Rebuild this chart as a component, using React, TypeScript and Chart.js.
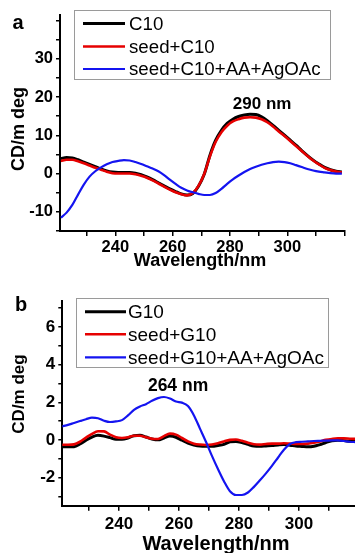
import { useEffect, useRef } from 'react';
import { Chart, registerables } from 'chart.js';
Chart.register(...registerables);

// ---------- Panel a data (CD spectra, mdeg) ----------
const wavelengthsA = [221,223,225,227,229,231,233,235,237,239,241,243,245,247,249,251,253,255,257,259,261,263,265,267,269,271,273,275,277,279,281,283,285,287,289,291,293,295,297,299,301,303,305,307,309,311,313,315,317,319];
const c10 = [3.9,4.2,4.1,3.6,3.0,2.4,1.8,1.2,0.7,0.4,0.3,0.3,0.3,0.1,-0.3,-0.9,-1.6,-2.4,-3.2,-4.0,-4.7,-5.3,-5.6,-5.2,-3.3,-0.2,4.8,8.7,11.3,13.1,14.2,14.9,15.3,15.5,15.4,14.8,13.8,12.6,11.3,10.0,8.7,7.4,6.0,4.7,3.5,2.5,1.6,1.0,0.6,0.4];
const seedC10 = [3.3,3.6,3.6,3.2,2.7,2.1,1.5,1.0,0.5,0.1,0.0,0.0,0.0,-0.2,-0.6,-1.1,-1.8,-2.6,-3.4,-4.2,-4.9,-5.4,-5.7,-5.1,-3.2,-0.1,4.5,8.3,10.8,12.5,13.6,14.2,14.6,14.7,14.6,14.2,13.4,12.3,11.0,9.8,8.5,7.2,5.9,4.6,3.4,2.4,1.5,0.9,0.5,0.3];
const seedC10AgOAc = [-11.5,-10.2,-8.2,-5.5,-2.9,-0.8,0.6,1.6,2.4,3.0,3.3,3.5,3.4,3.0,2.5,1.9,1.3,0.6,-0.4,-1.6,-2.7,-3.7,-4.4,-4.9,-5.3,-5.6,-5.6,-5.1,-4.0,-2.7,-1.5,-0.5,0.4,1.2,1.8,2.3,2.7,3.0,3.1,3.0,2.7,2.2,1.7,1.2,0.8,0.5,0.3,0.1,0.0,0.0];
const labelsA = ['C10', 'seed+C10', 'seed+C10+AA+AgOAc'];

// ---------- Panel b data ----------
const wavelengthsB = [221,223,225,227,229,231,233,235,237,239,241,243,245,247,249,251,253,255,257,259,261,263,265,267,269,271,273,275,277,279,281,283,285,287,289,291,293,295,297,299,301,303,305,307,309,311,313,315,317,319];
const g10 = [-0.37,-0.37,-0.36,-0.22,-0.02,0.15,0.24,0.2,0.12,0.03,0.03,0.1,0.22,0.24,0.15,0.05,0.0,0.1,0.2,0.14,-0.02,-0.17,-0.27,-0.33,-0.34,-0.34,-0.3,-0.24,-0.1,-0.08,-0.14,-0.24,-0.33,-0.34,-0.32,-0.3,-0.27,-0.25,-0.28,-0.33,-0.35,-0.37,-0.34,-0.25,-0.14,-0.05,-0.02,-0.04,-0.07,-0.08];
const seedG10 = [-0.26,-0.26,-0.24,-0.1,0.12,0.32,0.46,0.45,0.28,0.14,0.1,0.14,0.22,0.22,0.14,0.06,0.05,0.2,0.33,0.28,0.1,-0.08,-0.2,-0.25,-0.27,-0.25,-0.18,-0.08,0.0,0.02,-0.05,-0.15,-0.23,-0.25,-0.22,-0.2,-0.2,-0.18,-0.2,-0.22,-0.22,-0.2,-0.15,-0.08,0.0,0.05,0.08,0.08,0.06,0.05];
const seedG10AgOAc = [0.72,0.8,0.9,1.0,1.1,1.18,1.15,1.02,0.95,0.98,1.05,1.3,1.6,1.78,1.9,2.08,2.22,2.28,2.2,2.04,1.98,1.8,1.3,0.6,-0.1,-0.85,-1.55,-2.2,-2.73,-2.93,-2.93,-2.8,-2.5,-2.15,-1.78,-1.38,-0.95,-0.52,-0.22,-0.12,-0.1,-0.08,-0.06,-0.05,-0.04,-0.03,-0.03,-0.06,-0.1,-0.12];
const labelsB = ['G10', 'seed+G10', 'seed+G10+AA+AgOAc'];

// ---------- tick labels ----------
const xTickLabels = [240, 260, 280, 300];
const yTickLabelsA = [-10, 0, 10, 20, 30];
const yTickLabelsB = [-2, 0, 2, 4, 6];

const FONT = '"Liberation Sans", Arial, Helvetica, sans-serif';
const COLORS = ['#000000', '#e60000', '#1414f0'];
const WIDTHS = [3, 2.6, 2.2];

type PanelCfg = {
  top: number; height: number;
  wl: number[]; series: number[][]; labels: string[];
  yLabels: number[];
  xMin: number; xMax: number; yMin: number; yMax: number; yStep: number;
  padTop: number; padRight: number; yWidth: number; xHeight: number;
  letter: string; letterX: number; letterY: number;
  legend: { x: number; y: number; w: number; h: number; rows: number[]; lx1: number; lx2: number; tx: number; font: number };
  yTitle: { x: number; y: number; font: number };
  xTitle: { x: number; y: number; font: number };
  ann: { text: string; x: number; y: number; font: number };
  tickFont: number; xTickPad: number;
};

const panels: PanelCfg[] = [
  {
    top: 0, height: 272,
    wl: wavelengthsA, series: [c10, seedC10, seedC10AgOAc], labels: labelsA,
    yLabels: yTickLabelsA,
    xMin: 220.7, xMax: 320.1, yMin: -15, yMax: 41.4, yStep: 5,
    padTop: 15, padRight: 10, yWidth: 60, xHeight: 41,
    letter: 'a', letterX: 18, letterY: 23,
    legend: { x: 74, y: 10, w: 256, h: 69, rows: [23.5, 46.5, 69], lx1: 83, lx2: 125, tx: 129, font: 18.7 },
    yTitle: { x: 19, y: 129, font: 18 },
    xTitle: { x: 200, y: 261, font: 18 },
    ann: { text: '290 nm', x: 291.2, y: 18.2, font: 17 },
    tickFont: 16.5, xTickPad: 2,
  },
  {
    top: 272, height: 281,
    wl: wavelengthsB, series: [g10, seedG10, seedG10AgOAc], labels: labelsB,
    yLabels: yTickLabelsB,
    xMin: 221.1, xMax: 318.7, yMin: -3.5, yMax: 7.4, yStep: 1,
    padTop: 28.7, padRight: 0, yWidth: 62.3, xHeight: 47.3,
    letter: 'b', letterX: 21, letterY: 33,
    legend: { x: 76, y: 26, w: 252, h: 69, rows: [39.7, 62.3, 85.3], lx1: 85, lx2: 126, tx: 128, font: 19 },
    yTitle: { x: 19, y: 122, font: 17 },
    xTitle: { x: 216, y: 272, font: 20 },
    ann: { text: '264 nm', x: 259.7, y: 2.84, font: 17.5 },
    tickFont: 17, xTickPad: 3,
  },
];

function Panel({ cfg }: { cfg: PanelCfg }) {
  const ref = useRef<HTMLCanvasElement | null>(null);
  useEffect(() => {
    if (!ref.current) return;
    const decor = {
      id: 'decor',
      afterDraw(chart: any) {
        const { ctx, scales } = chart;
        ctx.save();
        ctx.fillStyle = '#000';
        ctx.font = `bold 20px ${FONT}`;
        ctx.textAlign = 'center';
        ctx.textBaseline = 'middle';
        ctx.fillText(cfg.letter, cfg.letterX, cfg.letterY);
        ctx.font = `bold ${cfg.ann.font}px ${FONT}`;
        ctx.fillText(cfg.ann.text, scales.x.getPixelForValue(cfg.ann.x), scales.y.getPixelForValue(cfg.ann.y));
        ctx.font = `bold ${cfg.xTitle.font}px ${FONT}`;
        ctx.fillText('Wavelength/nm', cfg.xTitle.x, cfg.xTitle.y);
        ctx.save();
        ctx.translate(cfg.yTitle.x, cfg.yTitle.y);
        ctx.rotate(-Math.PI / 2);
        ctx.font = `bold ${cfg.yTitle.font}px ${FONT}`;
        ctx.fillText('CD/m deg', 0, 0);
        ctx.restore();
        const L = cfg.legend;
        ctx.fillStyle = '#ffffff';
        ctx.fillRect(L.x, L.y, L.w, L.h);
        ctx.strokeStyle = '#9a9a9a';
        ctx.lineWidth = 1;
        ctx.strokeRect(L.x + 0.5, L.y + 0.5, L.w, L.h);
        ctx.font = `${L.font}px ${FONT}`;
        ctx.textAlign = 'left';
        ctx.textBaseline = 'middle';
        cfg.labels.forEach((lab, i) => {
          ctx.strokeStyle = COLORS[i];
          ctx.lineWidth = WIDTHS[i];
          ctx.beginPath();
          ctx.moveTo(L.lx1, L.rows[i]);
          ctx.lineTo(L.lx2, L.rows[i]);
          ctx.stroke();
          ctx.fillStyle = '#000';
          ctx.fillText(lab, L.tx, L.rows[i] + 1);
        });
        ctx.restore();
      },
    };

    const chart = new Chart(ref.current, {
      type: 'line',
      data: {
        datasets: cfg.series.map((s, i) => ({
          label: cfg.labels[i],
          data: cfg.wl.map((w, j) => ({ x: w, y: s[j] })),
          borderColor: COLORS[i],
          borderWidth: WIDTHS[i],
          pointRadius: 0,
          fill: false,
          cubicInterpolationMode: 'monotone' as const,
          order: 3 - i,
        })),
      },
      options: {
        responsive: false,
        animation: false,
        events: [],
        layout: { padding: { left: 0, right: cfg.padRight, top: cfg.padTop, bottom: 0 } },
        plugins: { legend: { display: false }, tooltip: { enabled: false } },
        scales: {
          x: {
            type: 'linear',
            min: cfg.xMin,
            max: cfg.xMax,
            afterFit: (s: any) => { s.height = cfg.xHeight; },
            border: { display: true, color: '#000', width: 2 },
            grid: { drawOnChartArea: false, drawTicks: true, tickLength: 5, color: '#000', lineWidth: 1.5 },
            ticks: {
              stepSize: 10,
              includeBounds: false,
              autoSkip: false,
              maxRotation: 0,
              padding: cfg.xTickPad,
              color: '#000',
              font: { family: FONT, size: cfg.tickFont, weight: 'bold' },
              callback: (v: any) => (xTickLabels.includes(Number(v)) ? String(v) : ''),
            },
          },
          y: {
            type: 'linear',
            min: cfg.yMin,
            max: cfg.yMax,
            afterFit: (s: any) => { s.width = cfg.yWidth; },
            border: { display: true, color: '#000', width: 2 },
            grid: { drawOnChartArea: false, drawTicks: true, tickLength: 4, color: '#000', lineWidth: 1.5 },
            ticks: {
              stepSize: cfg.yStep,
              includeBounds: false,
              autoSkip: false,
              padding: 3,
              color: '#000',
              font: { family: FONT, size: cfg.tickFont, weight: 'bold' },
              callback: (v: any) => (cfg.yLabels.includes(Number(v)) ? String(v) : ''),
            },
          },
        },
      },
      plugins: [decor],
    } as any);
    return () => chart.destroy();
  }, [cfg]);
  return (
    <canvas
      ref={ref}
      width={355}
      height={cfg.height}
      style={{ position: 'absolute', left: 0, top: cfg.top, width: 355, height: cfg.height, display: 'block' }}
    />
  );
}

export default function App() {
  return (
    <div style={{ position: 'absolute', left: 0, top: 0, width: 355, height: 553, background: '#fff', overflow: 'hidden' }}>
      {panels.map((p, i) => <Panel key={i} cfg={p} />)}
    </div>
  );
}
